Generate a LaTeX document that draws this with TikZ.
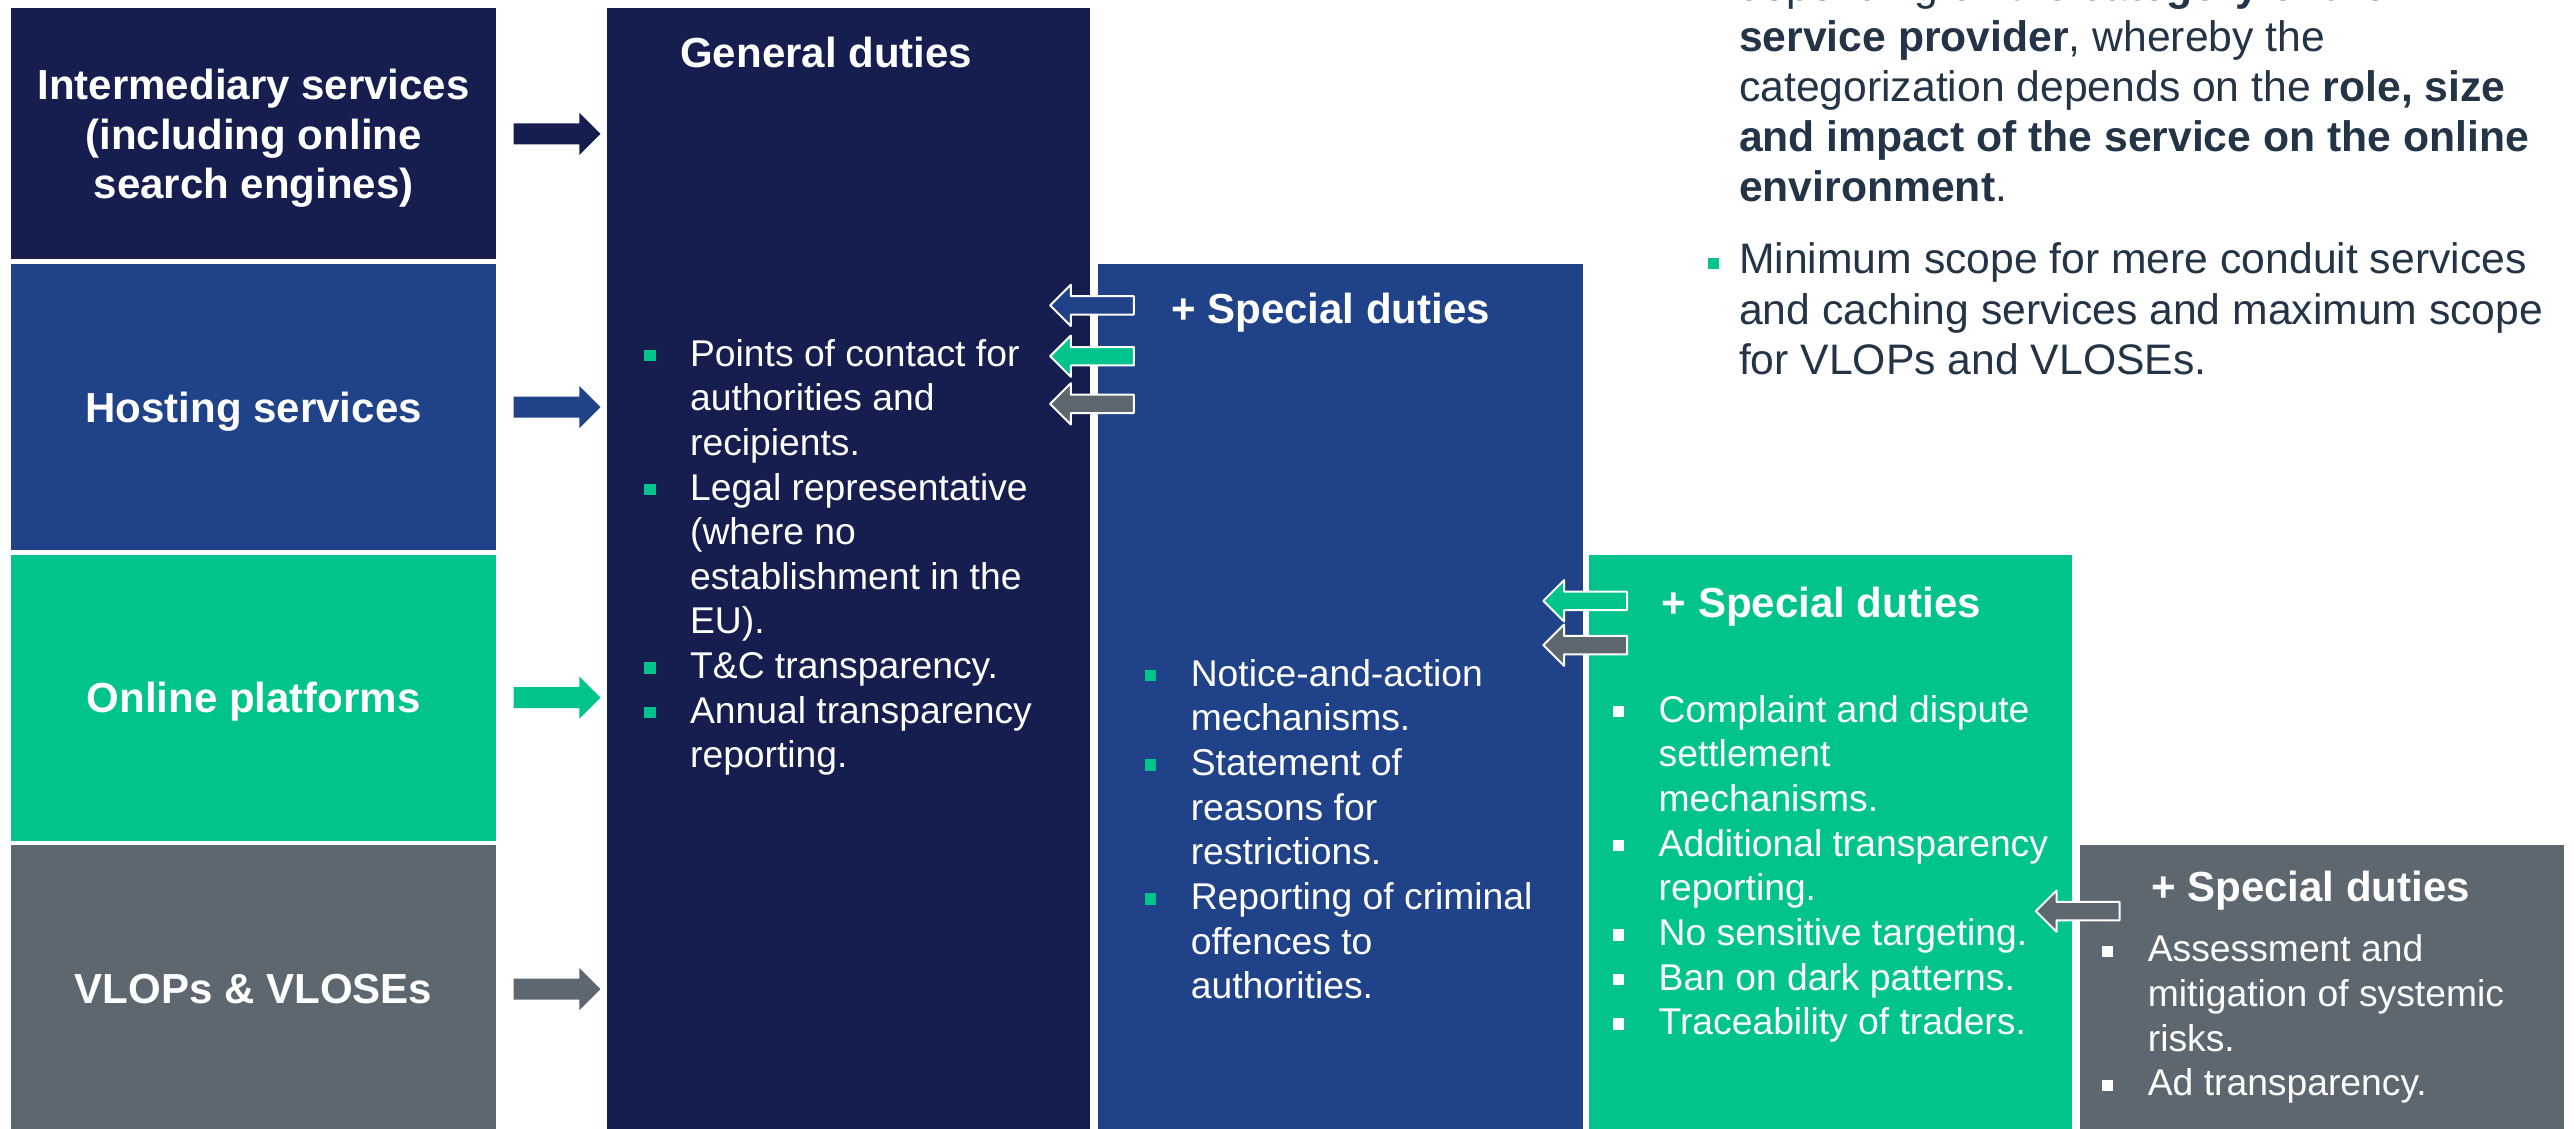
\documentclass[tikz,border=0pt]{standalone}
\usepackage{fontspec}
\setmainfont{Liberation Sans}
\usetikzlibrary{positioning,shapes.arrows}
\definecolor{dsanavy}{HTML}{161D4F}
\definecolor{dsablue}{HTML}{1F4288}
\definecolor{dsagreen}{HTML}{00C48C}
\definecolor{dsagray}{HTML}{5D6770}
\definecolor{dsatext}{HTML}{243447}
\newcommand\dsabullet[1]{\textcolor{#1}{\rule[1.5pt]{3.5pt}{3.5pt}}}
\newcommand\itm[2]{\par\hangindent=14pt\hangafter=1\noindent\makebox[14pt][l]{\dsabullet{#1}}#2}
\newcommand\duties[1]{\begin{minipage}[t]{170pt}\fontsize{11.35}{13.6}\selectfont\raggedright #1\end{minipage}}
\tikzset{
  catbox/.style={minimum width=147.5pt, inner sep=0pt, text depth=0pt, text=white, align=center, font=\fontsize{12.8}{15}\selectfont\bfseries},
  rarrow/.style={single arrow, fill=#1, minimum height=26.5pt, inner xsep=0pt, inner ysep=3pt, single arrow head extend=3.2pt, single arrow head indent=0pt},
  larrow/.style={single arrow, fill=#1, draw=white, line width=0.6pt, shape border rotate=180, minimum height=25.5pt, inner xsep=0pt, inner ysep=2.5pt, single arrow head extend=3.5pt},
  title/.style={anchor=base west, inner sep=0pt, text=white, font=\fontsize{12.8}{15}\selectfont\bfseries},
  duty/.style={anchor=base west, inner sep=0pt, text=white},
}
\begin{document}
\begin{tikzpicture}[x=0.5pt, y=-0.5pt, line join=round]
    \def\bot{690} % bottom edge of the columns
    \useasboundingbox (0,0) rectangle (1568,687.2);

    % categories
    \node[catbox, fill=dsanavy, minimum height=76.5pt] (inter) at (154.5,81.5) {Intermediary services\\(including online\\search engines)};
    \node[catbox, fill=dsablue, minimum height=87pt] (host) at (154.5,248) {Hosting services};
    \node[catbox, fill=dsagreen, minimum height=87pt] (plat) at (154.5,425) {Online platforms};
    \node[catbox, fill=dsagray, minimum height=87.5pt] (vlop) at (154.5,602.5) {VLOPs \& VLOSEs};

    \node[rarrow=dsanavy, right=5pt of inter] (interarr) {};
    \node[rarrow=dsablue, right=5pt of host] (hostarr) {};
    \node[rarrow=dsagreen, right=5pt of plat] (platarr) {};
    \node[rarrow=dsagray, right=5pt of vlop] (vloparr) {};

    % duty columns
    \fill[dsanavy] (370,5) rectangle (664,\bot);
    \fill[dsablue] (669,161) rectangle (964,\bot);
    \fill[dsagreen] (968,338) rectangle (1262,\bot);
    \fill[dsagray] (1267,515) rectangle (1562,\bot);

    \node[larrow=dsablue] (hostback) at (668,186) {};
    \node[larrow=dsagreen] (platback) at (668,217) {};
    \node[larrow=dsagray] (vlopback) at (668,246) {};
    \node[larrow=dsagreen] (platback2) at (968.5,366) {};
    \node[larrow=dsagray] (vlopback2) at (968.5,393) {};
    \node[larrow=dsagray] (vlopback3) at (1268.5,555) {};

    \node[title] (gentitle) at (414,41) {General duties};
    \node[title] (hosttitle) at (713,197) {+ Special duties};
    \node[title] (plattitle) at (1012,376) {+ Special duties};
    \node[title] (voltitle) at (1310,549) {+ Special duties};

    \node[duty] (genlist) at (392,223) {\duties{%
      \itm{dsagreen}{Points of contact for\newline authorities and\newline recipients.}
      \itm{dsagreen}{Legal representative\newline (where no\newline establishment in the\newline EU).}
      \itm{dsagreen}{T\&C transparency.}
      \itm{dsagreen}{Annual transparency\newline reporting.}}};
    \node[duty] (hostlist) at (697,418) {\duties{%
      \itm{dsagreen}{Notice-and-action\newline mechanisms.}
      \itm{dsagreen}{Statement of\newline reasons for\newline restrictions.}
      \itm{dsagreen}{Reporting of criminal\newline offences to\newline authorities.}}};
    \node[duty] (platlist) at (982,440) {\duties{%
      \itm{white}{Complaint and dispute\newline settlement\newline mechanisms.}
      \itm{white}{Additional transparency\newline reporting.}
      \itm{white}{No sensitive targeting.}
      \itm{white}{Ban on dark patterns.}
      \itm{white}{Traceability of traders.}}};
    \node[duty] (voplist) at (1280,586) {\duties{%
      \itm{white}{Assessment and\newline mitigation of systemic\newline risks.}
      \itm{white}{Ad transparency.}}};

    % note at the top right
    \node[anchor=base west, inner sep=0pt, text=dsatext] (note) at (1059,0.5) {%
      \begin{minipage}[t]{280pt}\fontsize{13}{15.3}\selectfont\raggedright
      depending on the \textbf{category of the}\newline
      \textbf{service provider}, whereby the\newline
      categorization depends on the \textbf{role, size}\newline
      \textbf{and impact of the service on the online}\newline
      \textbf{environment}.\par\vspace{6.7pt}
      \noindent\llap{\dsabullet{dsagreen}\hspace{6pt}}Minimum scope for mere conduit services\newline
      and caching services and maximum scope\newline
      for VLOPs and VLOSEs.
      \end{minipage}};
\end{tikzpicture}
\end{document}
